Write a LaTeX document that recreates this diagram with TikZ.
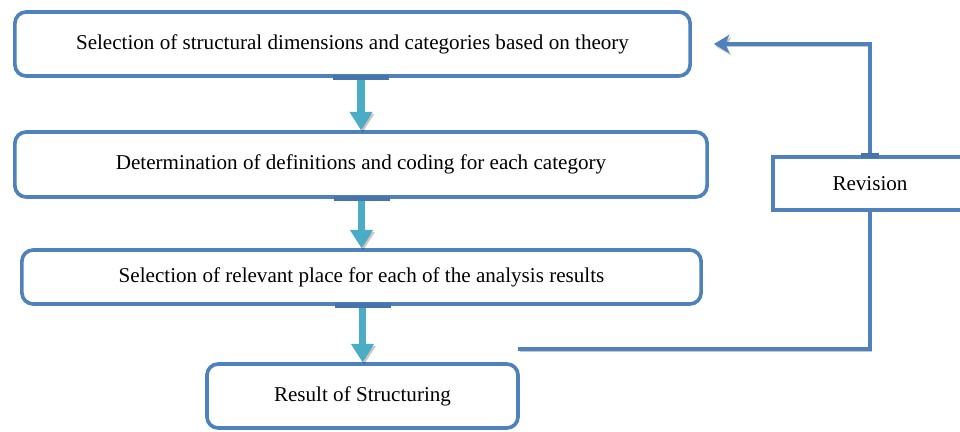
\documentclass[tikz,border=0pt]{standalone}
\usepackage{fontspec}
\setmainfont{Liberation Serif}
\usetikzlibrary{arrows.meta, positioning, calc}
\definecolor{frameblue}{HTML}{4F81BD}
\definecolor{flowteal}{HTML}{4BACC6}

\begin{document}
\begin{tikzpicture}[x=0.025cm, y=-0.025cm,
    stage/.style={draw=frameblue, line width=2.6pt, rounded corners=8pt, fill=white,
      align=center, inner sep=0pt, font=\fontsize{15}{18}\selectfont},
    revbox/.style={draw=frameblue, line width=2.6pt, fill=white, inner sep=0pt,
      font=\fontsize{15}{18}\selectfont},
    tab/.style={draw=frameblue!90!black, line width=3.4pt},
    dropshade/.style={preaction={draw=black, opacity=0.22,
      transform canvas={shift={(1.2pt,-1.6pt)}}}},
    flow/.style={draw=flowteal, line width=5.6pt, dropshade,
      -{Triangle[width=15.5pt, length=13pt]}},
    back/.style={draw=frameblue, line width=2.8pt, dropshade}]
    \useasboundingbox (0,0) rectangle (960,432);

    % Main stages
    \node[stage, minimum width=16.875cm, minimum height=1.6cm] (sel) at (352.5,44)
      {Selection of structural dimensions and categories based on theory};
    \node[stage, minimum width=17.3cm, minimum height=1.625cm] (det) at (361,164.5)
      {Determination of definitions and coding for each category};
    \node[stage, minimum width=16.975cm, minimum height=1.35cm] (pla) at (361.5,277)
      {Selection of relevant place for each of the analysis results};
    \node[stage, minimum width=7.775cm, minimum height=1.6cm] (res) at (362.5,396)
      {Result of Structuring};
    \node[revbox, minimum width=4.85cm, minimum height=1.325cm] (rev) at (870,183.5)
      {Revision};

    % Downward flow
    \draw[flow] (sel.south -| det.north) -- (det.north);
    \draw[flow] (det.south -| pla.north) -- (pla.north);
    \draw[flow] (pla.south -| res.north) -- (res.north);

    % Tabs on the stage edges
    \draw[tab] ($(sel.south -| det.north)+(-28,0)$) -- ($(sel.south -| det.north)+(28,0)$);
    \draw[tab] ($(det.south -| pla.north)+(-28,0)$) -- ($(det.south -| pla.north)+(28,0)$);
    \draw[tab] ($(pla.south -| res.north)+(-28,0)$) -- ($(pla.south -| res.north)+(28,0)$);

    % Feedback through revision
    \coordinate (fb) at (518,349);
    \draw[back] (fb) -| (rev.south);
    \draw[back, -{Stealth[width=13pt, length=11pt, inset=3pt]}]
      (rev.north) |- ($(sel.east)+(22,0)$);
    \draw[tab] ($(rev.north)+(-9,0)$) -- ($(rev.north)+(9,0)$);
\end{tikzpicture}
\end{document}
